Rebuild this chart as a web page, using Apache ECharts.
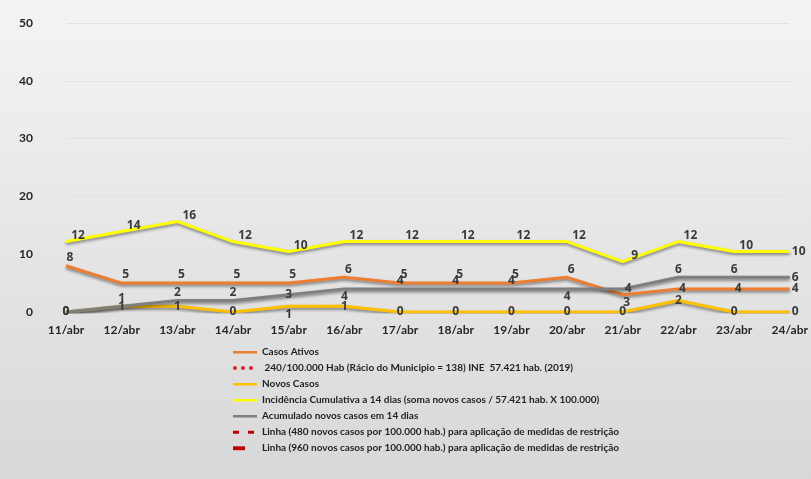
<!doctype html>
<html>
<head>
    <meta charset="utf-8">
    <script src="https://cdn.jsdelivr.net/npm/echarts@6/dist/echarts.min.js"></script>
    <style>
        html, body { margin: 0; padding: 0; }
        #chart { width: 811px; height: 479px; }
    </style>
</head>
<body>
<div id="chart"></div>
<script type="text/javascript">
    // dados
    var dias = ['11/abr', '12/abr', '13/abr', '14/abr', '15/abr', '16/abr', '17/abr',
        '18/abr', '19/abr', '20/abr', '21/abr', '22/abr', '23/abr', '24/abr'];
    var casosAtivos = [8, 5, 5, 5, 5, 6, 5, 5, 5, 6, 3, 4, 4, 4];
    var novosCasos = [0, 1, 1, 0, 1, 1, 0, 0, 0, 0, 0, 2, 0, 0];
    var incidencia = [12.19, 13.93, 15.67, 12.19, 10.45, 12.19, 12.19, 12.19, 12.19, 12.19, 8.71, 12.19, 10.45, 10.45];
    var acumulado14 = [0, 1, 2, 2, 3, 4, 4, 4, 4, 4, 4, 6, 6, 6];
    var linha240 = [240, 240, 240, 240, 240, 240, 240, 240, 240, 240, 240, 240, 240, 240];
    var linha480 = [480, 480, 480, 480, 480, 480, 480, 480, 480, 480, 480, 480, 480, 480];
    var linha960 = [960, 960, 960, 960, 960, 960, 960, 960, 960, 960, 960, 960, 960, 960];
    var yTicks = [0, 10, 20, 30, 40, 50];

    var nomes = [
        'Casos Ativos',
        ' 240/100.000 Hab (Rácio do Municipio = 138) INE  57.421 hab. (2019)',
        'Novos Casos',
        'Incidência Cumulativa a 14 dias (soma novos casos / 57.421 hab. X 100.000)',
        'Acumulado novos casos em 14 dias',
        'Linha (480 novos casos por 100.000 hab.) para aplicação de medidas de restrição',
        'Linha (960 novos casos por 100.000 hab.) para aplicação de medidas de restrição'
    ];

    // ícones da legenda (traço, pontos, tracejado, traço curto)
    var iconeTraco = 'path://M0,0 M0,6 H24 V8.5 H0 Z M24,14';
    var iconePontos = 'path://M0,0 M0,7 a2,2 0 1,0 4,0 a2,2 0 1,0 -4,0 M8,7 a2,2 0 1,0 4,0 a2,2 0 1,0 -4,0 M16,7 a2,2 0 1,0 4,0 a2,2 0 1,0 -4,0 M24,14';
    var iconeTracejado = 'path://M0,0 M0,5.8 H6 V8.7 H0 Z M15,5.8 H21 V8.7 H15 Z M24,14';
    var iconeCurto = 'path://M0,0 M0,5.3 H12 V9.2 H0 Z M24,14';
    var icones = [iconeTraco, iconePontos, iconeTraco, iconeTraco, iconeTraco, iconeTracejado, iconeCurto];

    var fonte = 'Lato, "Liberation Sans", sans-serif';
    var labelBase = {
        show: true, position: 'top', color: '#3a3a3a', fontWeight: 'bold',
        fontSize: 12, fontFamily: '"Open Sans", ' + fonte, distance: 2,
        formatter: function (p) { return Math.round(p.value); }
    };
    var sombra = { shadowColor: 'rgba(0,0,0,0.45)', shadowBlur: 3, shadowOffsetY: 2 };

    // monta os pontos com rótulo próprio quando preciso
    function pontos(valores, ajustes) {
        return valores.map(function (v, i) {
            var aj = ajustes[i] || (i === valores.length - 1 ? { position: 'right', offset: [0, 0] } : null);
            if (!aj) return v;
            if (typeof aj === 'string') aj = { position: aj };
            return { value: v, label: aj };
        });
    }

    function serieLinha(nome, valores, cor, largura, rotulo, ajustes) {
        return {
            name: nome, type: 'line', symbol: 'circle', symbolSize: 0.1, showSymbol: true, showAllSymbol: true,
            data: pontos(valores, ajustes || {}),
            lineStyle: Object.assign({ color: cor, width: largura }, sombra),
            itemStyle: { color: cor },
            label: Object.assign({}, labelBase, rotulo || {}),
            emphasis: { disabled: true }
        };
    }

    function serieLimite(nome, valores, cor, largura, tipo) {
        return {
            name: nome, type: 'line', symbol: 'none', data: valores, clip: true,
            lineStyle: { color: cor, width: largura, type: tipo },
            itemStyle: { color: cor }
        };
    }

    var chart = echarts.init(document.getElementById('chart'));
    var option = {
        backgroundColor: new echarts.graphic.LinearGradient(0, 0, 0, 1, [
            { offset: 0, color: '#f4f4f4' },
            { offset: 1, color: '#d8d8d8' }
        ]),
        animation: false,
        grid: { left: 66, right: 19, top: 23, bottom: 167 },
        legend: {
            orient: 'vertical', left: 228, top: 340, itemWidth: 24, itemHeight: 14, itemGap: 2,
            data: nomes.map(function (n, i) {
                return { name: n, icon: icones[i] };
            }),
            textStyle: { fontFamily: fonte, fontSize: 10, fontWeight: 'bold', color: '#1f1f1f' }
        },
        xAxis: {
            type: 'category', data: dias, boundaryGap: false,
            axisLine: { show: false }, axisTick: { show: false },
            axisLabel: { color: '#262626', fontWeight: 'bold', fontSize: 12, fontFamily: fonte, margin: 12, interval: 0 }
        },
        yAxis: {
            type: 'value', min: yTicks[0], max: yTicks[yTicks.length - 1], interval: 10,
            axisLine: { show: false }, axisTick: { show: false },
            axisLabel: { color: '#262626', fontWeight: 'bold', fontSize: 12, fontFamily: fonte, margin: 33 },
            splitLine: { lineStyle: { color: '#e2e2e2', width: 1 } }
        },
        series: [
            serieLinha(nomes[0], casosAtivos, '#ED7D31', 3, { offset: [4, 0] }, { 10: 'bottom', 11: 'inside', 12: 'inside' }),
            serieLimite(nomes[1], linha240, '#E0202A', 4, 'dotted'),
            serieLinha(nomes[2], novosCasos, '#FFC000', 3, { position: 'inside' }, { 4: 'bottom' }),
            serieLinha(nomes[3], incidencia, '#FFFF00', 3, { offset: [12, 2] }, {}),
            serieLinha(nomes[4], acumulado14, '#7F7F7F', 3, {}, { 0: 'inside', 4: 'inside', 5: 'bottom', 9: 'bottom', 10: 'right' }),
            serieLimite(nomes[5], linha480, '#C00000', 3, [8, 10]),
            serieLimite(nomes[6], linha960, '#C00000', 4, 'solid')
        ]
    };
    chart.setOption(option);
</script>
</body>
</html>
